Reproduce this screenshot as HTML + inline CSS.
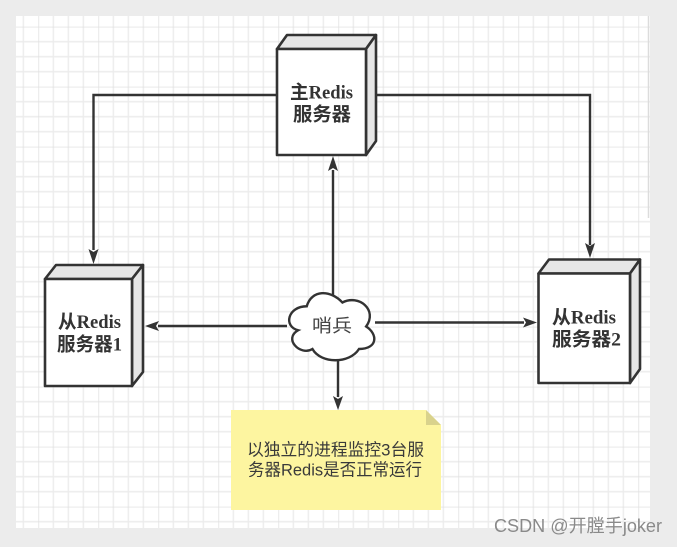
<!DOCTYPE html>
<html>
<head>
<meta charset="utf-8">
<style>
  html, body { margin: 0; padding: 0; background: #ececec; }
  body { width: 677px; height: 547px; overflow: hidden; }
  svg { display: block; }
</style>
</head>
<body>
<svg width="677" height="547" viewBox="0 0 677 547" xmlns="http://www.w3.org/2000/svg">
  <defs>
    <pattern id="grid" patternUnits="userSpaceOnUse" x="38.3" y="26.7" width="60" height="60">
      <rect width="60" height="60" fill="#ffffff"/>
      <g stroke="#ececec" stroke-width="1.4">
        <line x1="15" y1="0" x2="15" y2="60"/>
        <line x1="30" y1="0" x2="30" y2="60"/>
        <line x1="45" y1="0" x2="45" y2="60"/>
        <line x1="0" y1="15" x2="60" y2="15"/>
        <line x1="0" y1="30" x2="60" y2="30"/>
        <line x1="0" y1="45" x2="60" y2="45"/>
      </g>
      <g stroke="#e1e1e1" stroke-width="1.5">
        <line x1="0" y1="0" x2="0" y2="60"/>
        <line x1="0" y1="0" x2="60" y2="0"/>
      </g>
    </pattern>
  </defs>

  <!-- background -->
  <rect x="0" y="0" width="677" height="547" fill="#ececec"/>
  <rect x="16" y="16" width="634" height="512" fill="url(#grid)"/>
  <line x1="648.5" y1="16" x2="648.5" y2="218" stroke="#dcdcdc" stroke-width="1.5"/>

  <!-- connectors -->
  <g stroke="#333" stroke-width="2.4" fill="none">
    <polyline points="277,95 93.5,95 93.5,250"/>
    <polyline points="366,95 590,95 590,245"/>
    <line x1="333" y1="298" x2="333" y2="170"/>
    <line x1="287" y1="326" x2="158" y2="326"/>
    <line x1="375" y1="322.5" x2="524" y2="322.5"/>
    <line x1="338" y1="359" x2="338" y2="397"/>
  </g>
  <g fill="#333">
    <polygon points="93.5,264 88.5,249 93.5,252 98.5,249"/>
    <polygon points="590,258 585,243 590,246 595,243"/>
    <polygon points="333,156 328,171 333,168 338,171"/>
    <polygon points="145,326 159,321 156,326 159,331"/>
    <polygon points="537,322.5 523,317.5 526,322.5 523,327.5"/>
    <polygon points="338,410 333,396 338,399 343,396"/>
  </g>

  <!-- main box -->
  <g stroke="#333" stroke-width="2.6" stroke-linejoin="round">
    <polygon points="277,49 287,35 376,35 366,49" fill="#e6e6e6"/>
    <polygon points="366,49 376,35 376,141 366,155" fill="#e6e6e6"/>
    <rect x="277" y="49" width="89" height="106" fill="#ffffff"/>
  </g>
  <g font-family="'Liberation Serif','Noto Sans CJK SC',serif" font-weight="bold" font-size="19" fill="#333">
    <text x="290" y="98.5" textLength="63" lengthAdjust="spacingAndGlyphs">主Redis</text>
    <text x="293" y="120.5" textLength="58" lengthAdjust="spacingAndGlyphs">服务器</text>
  </g>

  <!-- left box -->
  <g stroke="#333" stroke-width="2.6" stroke-linejoin="round">
    <polygon points="45,279 56,265 143,265 132,279" fill="#e6e6e6"/>
    <polygon points="132,279 143,265 143,372 132,386" fill="#e6e6e6"/>
    <rect x="45" y="279" width="87" height="107" fill="#ffffff"/>
  </g>
  <g font-family="'Liberation Serif','Noto Sans CJK SC',serif" font-weight="bold" font-size="19" fill="#333">
    <text x="58" y="328" textLength="63" lengthAdjust="spacingAndGlyphs">从Redis</text>
    <text x="57" y="350.5" textLength="65" lengthAdjust="spacingAndGlyphs">服务器1</text>
  </g>

  <!-- right box -->
  <g stroke="#333" stroke-width="2.6" stroke-linejoin="round">
    <polygon points="538.5,273.5 549,259.5 640,259.5 630,273.5" fill="#e6e6e6"/>
    <polygon points="630,273.5 640,259.5 640,369 630,383" fill="#e6e6e6"/>
    <rect x="538.5" y="273.5" width="91.5" height="109.5" fill="#ffffff"/>
  </g>
  <g font-family="'Liberation Serif','Noto Sans CJK SC',serif" font-weight="bold" font-size="19" fill="#333">
    <text x="552" y="323.5" textLength="64" lengthAdjust="spacingAndGlyphs">从Redis</text>
    <text x="552" y="345.5" textLength="69" lengthAdjust="spacingAndGlyphs">服务器2</text>
  </g>

  <!-- cloud -->
  <path d="M306.75,306.25 C287.75,306.25 283,326.5 298.2,330.25 C283,338.5 300.1,356.5 312.45,349 C321,364 349.5,364 359,349 C378,349 378,334 366.125,326.5 C378,310 359,294 342.375,302.5 C330.5,289.5 311.5,289.5 306.75,306.25 Z"
        fill="#ffffff" stroke="#333" stroke-width="2.4"/>
  <text x="312" y="332" font-family="'Liberation Sans','Noto Sans CJK SC',sans-serif" font-size="18" fill="#444" textLength="40" lengthAdjust="spacingAndGlyphs">哨兵</text>

  <!-- note -->
  <polygon points="231,410 426,410 441,425 441,510 231,510" fill="#fdf5a0"/>
  <polygon points="426,410 441,425 426,425" fill="#d9d28c"/>
  <g font-family="'Liberation Sans','Noto Sans CJK SC',sans-serif" font-size="17" fill="#3a3a3a">
    <text x="247" y="455.5" textLength="177" lengthAdjust="spacingAndGlyphs">以独立的进程监控3台服</text>
    <text x="248" y="475.5" textLength="174" lengthAdjust="spacingAndGlyphs">务器Redis是否正常运行</text>
  </g>

  <!-- watermark -->
  <text x="494" y="532" font-family="'Liberation Sans','Noto Sans CJK SC',sans-serif" font-size="18" fill="#8a8a8a" textLength="168" lengthAdjust="spacingAndGlyphs">CSDN @开膛手joker</text>
</svg>
</body>
</html>
